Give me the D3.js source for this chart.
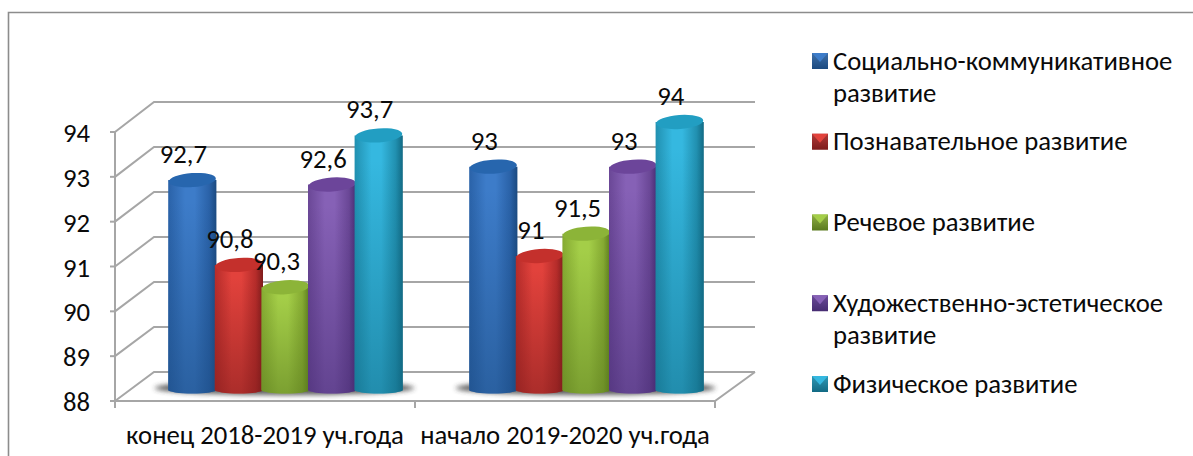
<!DOCTYPE html>
<html><head><meta charset="utf-8">
<script src="https://cdn.jsdelivr.net/npm/d3@7"></script>
<style>html,body{margin:0;padding:0;background:#fff}svg{display:block}text{font-family:Carlito,Calibri,"Open Sans","Noto Sans",sans-serif;fill:#0a0a0a}</style>
</head><body><svg id="c" width="1193" height="456"></svg>
<script>
const categories=["конец 2018-2019 уч.года","начало 2019-2020 уч.года"];
const seriesNames=["Социально-коммуникативное развитие","Познавательное развитие","Речевое развитие","Художественно-эстетическое развитие","Физическое развитие"];
const social=[92.7,93];
const cognitive=[90.8,91];
const speech=[90.3,91.5];
const art=[92.6,93];
const physical=[93.7,94];
const valueLabels=[["92,7","93"],["90,8","91"],["90,3","91,5"],["92,6","93"],["93,7","94"]];
const yTicks=[88,89,90,91,92,93,94];
const allSeries=[social,cognitive,speech,art,physical];
const palette=[
 {d:"#1b4a80",m:"#3d7cc9",l:"#2a62a8",top:"#2766ae",s:"#3f6fa8"},
 {d:"#7e1c1c",m:"#e2423c",l:"#b52c2a",top:"#c4302c",s:"#b03a3a"},
 {d:"#5a7a1e",m:"#a4ce48",l:"#85aa32",top:"#8cb438",s:"#8fae45"},
 {d:"#462c72",m:"#8661b6",l:"#6a4796",top:"#6c459a",s:"#6a4a98"},
 {d:"#126a84",m:"#35b8e0",l:"#2190b0",top:"#229ec2",s:"#2f98b5"}];
const FS=26.7;
const svg=d3.select("#c");
const defs=svg.append("defs");
palette.forEach((p,i)=>{
 const g=defs.append("linearGradient").attr("id","cyl"+i);
 [[0,p.l],[.35,p.m],[.55,p.m],[.85,p.l],[1,p.d]].forEach(s=>g.append("stop").attr("offset",s[0]).attr("stop-color",s[1]));
 const v=defs.append("linearGradient").attr("id","shade"+i).attr("x1",0).attr("x2",0).attr("y1",0).attr("y2",1);
 v.append("stop").attr("offset",.1).attr("stop-color",p.d).attr("stop-opacity",0);
 v.append("stop").attr("offset",1).attr("stop-color",p.d).attr("stop-opacity",.55);
 const lg=defs.append("linearGradient").attr("id","leg"+i).attr("x1",0).attr("x2",0).attr("y1",0).attr("y2",1);
 lg.append("stop").attr("offset",0).attr("stop-color",p.s);
 lg.append("stop").attr("offset",1).attr("stop-color",p.d);
});
const blur=defs.append("filter").attr("id","blur").attr("x","-20%").attr("y","-80%").attr("width","140%").attr("height","260%");
blur.append("feGaussianBlur").attr("stdDeviation",2.5);
const grid="#a6a6a6";
svg.append("path").attr("d","M8.5,456V12.5H1193").attr("fill","none").attr("stroke","#8c8c8c").attr("stroke-width",1.6);
const yFront=d3.scaleLinear().domain([88,94]).range([401,132]);
const yBack=d3.scaleLinear().domain([88,94]).range([372,102]);
const yBar=d3.scaleLinear().domain([88,94]).range([390,122]);
const xFront=d3.scaleBand().domain(categories).range([115,715]);
const xBar=d3.scaleBand().domain(categories).range([135,737]);
const xSeries=d3.scaleBand().domain(d3.range(5)).range([-116.5,116.5]);
const backL=154,backR=755,frontL=115,frontR=715;
const gl=svg.append("g").attr("stroke",grid).attr("stroke-width",2).attr("fill","none");
yTicks.forEach(t=>{
 gl.append("path").attr("d",`M${frontL},${yFront(t)}L${backL},${yBack(t)}H${backR}`);
 gl.append("path").attr("d",`M${frontL-5},${yFront(t)}H${frontL}`);
});
gl.append("path").attr("d",`M${frontL},${yFront(94)}V${yFront(88)}H${frontR}L${backR},${yBack(88)}`);
[...categories.map(c=>xFront(c)),frontR].forEach(x=>gl.append("path").attr("d",`M${x},401V408`));
svg.append("g").selectAll("text").data(yTicks).join("text").attr("x",90).attr("y",d=>yFront(d)+10).attr("text-anchor","end").attr("font-size",FS).text(d=>d);
svg.append("g").selectAll("text").data(categories).join("text").attr("x",d=>xFront(d)+xFront.bandwidth()/2).attr("y",444).attr("text-anchor","middle").attr("font-size",FS).text(d=>d);
const rx=xSeries.bandwidth()/2+.8, ry=7, ryB=3.5;
categories.forEach((c,ci)=>{
 const cx0=xBar(c)+xBar.bandwidth()/2;
 svg.append("ellipse").attr("cx",cx0-1).attr("cy",yBar(88)-2).attr("rx",130).attr("ry",7).attr("fill","#333").attr("opacity",.8).attr("filter","url(#blur)");
 allSeries.forEach((s,si)=>{
  const v=s[ci];
  const cx=cx0+xSeries(si)+xSeries.bandwidth()/2;
  const yt=yBar(v), yb=yBar(88);
  const d=`M${cx-rx},${yt}V${yb}A${rx},${ryB} 0 0 0 ${cx+rx},${yb}V${yt}Z`;
  svg.append("path").attr("d",d).attr("fill",`url(#cyl${si})`);
  svg.append("path").attr("d",d).attr("fill",`url(#shade${si})`);
  svg.append("ellipse").attr("cx",cx).attr("cy",yt).attr("rx",rx-.5).attr("ry",ry).attr("fill",palette[si].top).attr("transform",`rotate(-4 ${cx} ${yt})`);
 });
});
categories.forEach((c,ci)=>{
 const cx0=xBar(c)+xBar.bandwidth()/2;
 allSeries.forEach((s,si)=>{
  svg.append("text").attr("x",cx0+xSeries(si)+xSeries.bandwidth()/2-9).attr("y",yBar(s[ci])-17).attr("text-anchor","middle").attr("font-size",FS).text(valueLabels[si][ci]);
 });
});
const legendLines=[["Социально-коммуникативное","развитие"],["Познавательное развитие"],["Речевое развитие"],["Художественно-эстетическое","развитие"],["Физическое развитие"]];
const legendY=d3.scalePoint().domain(d3.range(5)).range([61,384]);
legendLines.forEach((lines,i)=>{
 const y=legendY(i), x=812, w=16;
 svg.append("rect").attr("x",x).attr("y",y-8).attr("width",w).attr("height",w).attr("fill",`url(#leg${i})`);
 svg.append("path").attr("d",`M${x},${y-8}H${x+w}L${x+w/2},${y+1}Z`).attr("fill",palette[i].m);
 lines.forEach((t,j)=>svg.append("text").attr("x",833).attr("y",y+8.5+j*32).attr("font-size",FS).text(t));
});
</script></body></html>
